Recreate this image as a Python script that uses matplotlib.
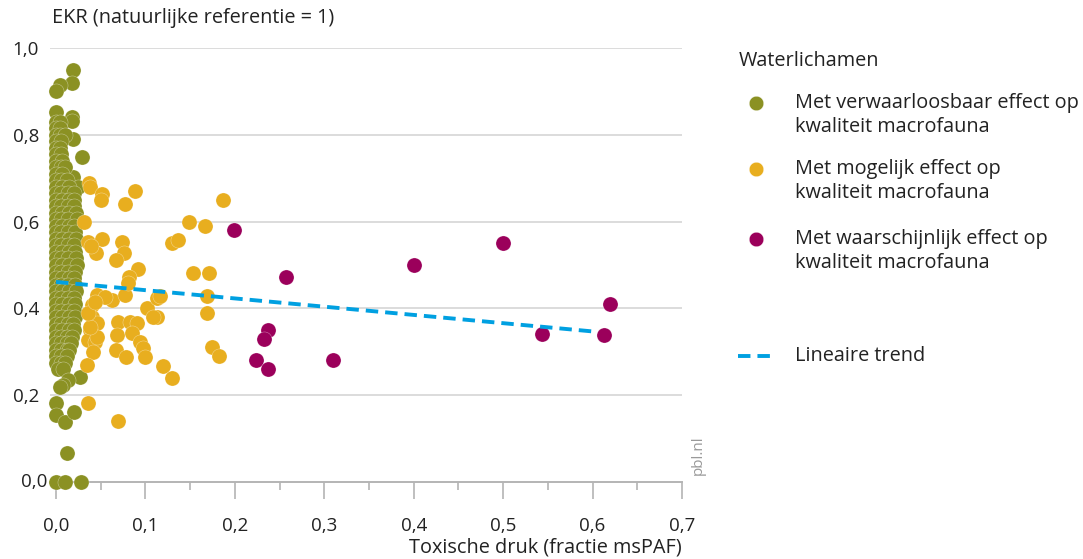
import matplotlib
matplotlib.use("Agg")
import matplotlib.pyplot as plt
from matplotlib.lines import Line2D

plt.rcParams['font.family'] = ['Open Sans', 'DejaVu Sans']

# ---------------- data ----------------
olive_pts = [
    (0.019, 0.95), (0.018, 0.92), (0.004, 0.915), (0.0, 0.90), (0.0, 0.853),
    (0.018, 0.84), (0.018, 0.832), (0.019, 0.79), (0.029, 0.75), (0.019, 0.703), (0.025, 0.68),
    (0.0, 0.83), (0.004, 0.83),
    (0.0, 0.815), (0.005, 0.815),
    (0.0, 0.80), (0.005, 0.80), (0.01, 0.80),
    (0.0, 0.785), (0.006, 0.785),
    (0.0, 0.77), (0.005, 0.77),
    (0.0, 0.755), (0.006, 0.755),
    (0.0, 0.74), (0.007, 0.74),
    (0.0, 0.725), (0.006, 0.725), (0.01, 0.725),
    (0.0, 0.71), (0.007, 0.71),
    (0.0, 0.695), (0.006, 0.695), (0.012, 0.695),
    (0.0, 0.68), (0.007, 0.68), (0.014, 0.68),
    (0.0, 0.665), (0.006, 0.665), (0.013, 0.665), (0.02, 0.665),
    (0.0, 0.65), (0.007, 0.65), (0.014, 0.65), (0.02, 0.65),
    (0.0, 0.635), (0.006, 0.635), (0.013, 0.635), (0.02, 0.635),
    (0.0, 0.62), (0.007, 0.62), (0.014, 0.62), (0.022, 0.62),
    (0.0, 0.605), (0.006, 0.605), (0.013, 0.605), (0.024, 0.605),
    (0.0, 0.59), (0.007, 0.59), (0.014, 0.59), (0.02, 0.59),
    (0.0, 0.575), (0.006, 0.575), (0.013, 0.575), (0.021, 0.575),
    (0.0, 0.56), (0.007, 0.56), (0.014, 0.56), (0.022, 0.56),
    (0.0, 0.545), (0.006, 0.545), (0.013, 0.545), (0.02, 0.545),
    (0.0, 0.53), (0.007, 0.53), (0.014, 0.53), (0.021, 0.53),
    (0.0, 0.515), (0.006, 0.515), (0.013, 0.515), (0.022, 0.515),
    (0.0, 0.50), (0.007, 0.50), (0.014, 0.50), (0.023, 0.50),
    (0.0, 0.485), (0.006, 0.485), (0.013, 0.485), (0.021, 0.485),
    (0.0, 0.47), (0.007, 0.47), (0.014, 0.47), (0.02, 0.47),
    (0.0, 0.455), (0.006, 0.455), (0.013, 0.455), (0.021, 0.455),
    (0.0, 0.44), (0.007, 0.44), (0.014, 0.44), (0.022, 0.44),
    (0.0, 0.425), (0.006, 0.425), (0.013, 0.425), (0.02, 0.425),
    (0.0, 0.41), (0.007, 0.41), (0.014, 0.41), (0.021, 0.41),
    (0.0, 0.395), (0.006, 0.395), (0.013, 0.395), (0.02, 0.395),
    (0.0, 0.38), (0.007, 0.38), (0.014, 0.38), (0.021, 0.38),
    (0.0, 0.365), (0.006, 0.365), (0.013, 0.365), (0.019, 0.365),
    (0.0, 0.35), (0.007, 0.35), (0.014, 0.35), (0.02, 0.35),
    (0.0, 0.335), (0.006, 0.335), (0.012, 0.335), (0.018, 0.335),
    (0.0, 0.32), (0.006, 0.32), (0.012, 0.32), (0.017, 0.32),
    (0.0, 0.305), (0.006, 0.305), (0.012, 0.305), (0.015, 0.305),
    (0.0, 0.29), (0.006, 0.29), (0.012, 0.29),
    (0.0, 0.275), (0.006, 0.275), (0.01, 0.275),
    (0.002, 0.26), (0.008, 0.26),
    (0.027, 0.242), (0.013, 0.235), (0.008, 0.224), (0.004, 0.219),
    (0.0, 0.182), (0.0, 0.154), (0.01, 0.138), (0.02, 0.161),
    (0.012, 0.067), (0.0, 0.0), (0.01, 0.0), (0.028, 0.0),
]
olive_x = [p[0] for p in olive_pts]
olive_y = [p[1] for p in olive_pts]

orange_x = [0.037, 0.038, 0.051, 0.050, 0.077, 0.088, 0.031, 0.036, 0.051, 0.074,
            0.076, 0.067, 0.045, 0.039, 0.092, 0.082, 0.149, 0.167, 0.130, 0.136,
            0.153, 0.171, 0.187, 0.046, 0.063, 0.077, 0.081, 0.055, 0.040, 0.040,
            0.046, 0.038, 0.036, 0.044, 0.041, 0.035, 0.069, 0.068, 0.067, 0.078,
            0.083, 0.091, 0.085, 0.094, 0.097, 0.100, 0.102, 0.113, 0.113, 0.116,
            0.108, 0.120, 0.130, 0.169, 0.169, 0.174, 0.182, 0.036, 0.069, 0.046,
            0.038, 0.036, 0.044]
orange_y = [0.689, 0.680, 0.664, 0.650, 0.641, 0.671, 0.599, 0.553, 0.560, 0.553,
            0.528, 0.512, 0.528, 0.544, 0.491, 0.472, 0.599, 0.590, 0.551, 0.558,
            0.482, 0.482, 0.650, 0.431, 0.419, 0.431, 0.459, 0.426, 0.408, 0.380,
            0.366, 0.350, 0.327, 0.323, 0.300, 0.270, 0.369, 0.339, 0.304, 0.288,
            0.369, 0.366, 0.343, 0.323, 0.309, 0.288, 0.401, 0.380, 0.424, 0.429,
            0.380, 0.267, 0.240, 0.429, 0.389, 0.311, 0.290, 0.182, 0.141, 0.334,
            0.357, 0.389, 0.415]

purple_x = [0.199, 0.50, 0.400, 0.257, 0.620, 0.237, 0.233, 0.544, 0.613, 0.224, 0.310, 0.237]
purple_y = [0.581, 0.55, 0.500, 0.472, 0.410, 0.350, 0.330, 0.340, 0.339, 0.280, 0.280, 0.260]

trend_x = [0.0, 0.605]
trend_y = [0.461, 0.346]

x_ticks = [0.0, 0.1, 0.2, 0.3, 0.4, 0.5, 0.6, 0.7]
x_labels = ["0,0", "0,1", "0,2", "0,3", "0,4", "0,5", "0,6", "0,7"]
y_ticks = [0.0, 0.2, 0.4, 0.6, 0.8, 1.0]
y_labels = ["0,0", "0,2", "0,4", "0,6", "0,8", "1,0"]

legend_labels = ["Met verwaarloosbaar effect op\nkwaliteit macrofauna",
                 "Met mogelijk effect op\nkwaliteit macrofauna",
                 "Met waarschijnlijk effect op\nkwaliteit macrofauna"]

# ---------------- style ----------------
C_OLIVE = "#8b9123"
C_ORANGE = "#e8ae1f"
C_PURPLE = "#9b005b"
C_BLUE = "#00a0e1"
C_GRID = "#dcdcdc"
C_AXIS = "#b4b4b4"
C_TEXT = "#222222"
FS = 14.3

W, H = 1083, 559
fig = plt.figure(figsize=(W / 100, H / 100), dpi=100)
ax = fig.add_axes([50 / W, 1 - 482 / H, (682 - 50) / W, (482 - 48) / H])

ms = 118
for xs, ys, c in [(olive_x, olive_y, C_OLIVE), (orange_x, orange_y, C_ORANGE),
                  (purple_x, purple_y, C_PURPLE)]:
    ax.scatter(xs, ys, s=ms, color=c, edgecolors=(1, 1, 1, 0.6), linewidths=0.3,
               zorder=3, clip_on=False)

ax.plot(trend_x, trend_y, color=C_BLUE, lw=2.8, dashes=(3.2, 1.8), zorder=4,
        solid_capstyle="butt", dash_capstyle="butt")

ax.set_xlim(-0.0067, 0.7)
ax.set_ylim(0, 1.0)

for s in ["top", "right", "left"]:
    ax.spines[s].set_visible(False)
ax.spines["bottom"].set_color(C_AXIS)
ax.spines["bottom"].set_linewidth(1.4)
ax.spines["bottom"].set_zorder(2)

ax.set_yticks(y_ticks[1:])
ax.set_yticklabels(y_labels[1:])
ax.yaxis.grid(True, color=C_GRID, lw=1.4, zorder=0)
ax.set_axisbelow(True)
ax.tick_params(axis="y", length=0, pad=8, labelsize=13.5, labelcolor=C_TEXT)
ax.text(-0.0095, 0.0, "0,0", transform=ax.transData, ha="right", va="center",
        fontsize=13.5, color=C_TEXT)

ax.set_xticks(x_ticks)
ax.set_xticklabels(x_labels)
ax.set_xticks([0.05, 0.15, 0.25, 0.35, 0.45, 0.55, 0.65], minor=True)
ax.tick_params(axis="x", which="major", length=12, width=1.2, color=C_AXIS,
               pad=13, labelsize=13.5, labelcolor=C_TEXT)
ax.tick_params(axis="x", which="minor", length=6, width=1.2, color=C_AXIS)

fig.text(682 / W, 1 - 547 / H, "Toxische druk (fractie msPAF)", ha="right",
         va="center", fontsize=FS, color=C_TEXT)
fig.text(52 / W, 1 - 18 / H, "EKR (natuurlijke referentie = 1)", ha="left",
         va="center", fontsize=FS, color=C_TEXT)
fig.text(698 / W, 1 - 455 / H, "pbl.nl", rotation=90, ha="center", va="center",
         fontsize=11, color="#999999")

# ---------------- legend (manual) ----------------
fig.text(739 / W, 1 - 61 / H, "Waterlichamen", ha="left", va="center",
         fontsize=FS, color=C_TEXT)
entry_y = [115, 181, 251]
for yy, lab, c in zip(entry_y, legend_labels, [C_OLIVE, C_ORANGE, C_PURPLE]):
    fig.add_artist(Line2D([756 / W], [1 - (yy - 12) / H], marker="o", markersize=10.5,
                          color=c, markeredgecolor="white", markeredgewidth=0.3,
                          transform=fig.transFigure, linestyle="none"))
    fig.text(795 / W, 1 - yy / H, lab, ha="left", va="center", fontsize=FS,
             color=C_TEXT, linespacing=1.3)
fig.add_artist(Line2D([738 / W, 775 / W], [1 - 356 / H, 1 - 356 / H], color=C_BLUE,
                      lw=2.8, dashes=(3.2, 1.8), transform=fig.transFigure))
fig.text(795 / W, 1 - 356 / H, "Lineaire trend", ha="left", va="center",
         fontsize=FS, color=C_TEXT)

fig.savefig("out.png", dpi=100)
